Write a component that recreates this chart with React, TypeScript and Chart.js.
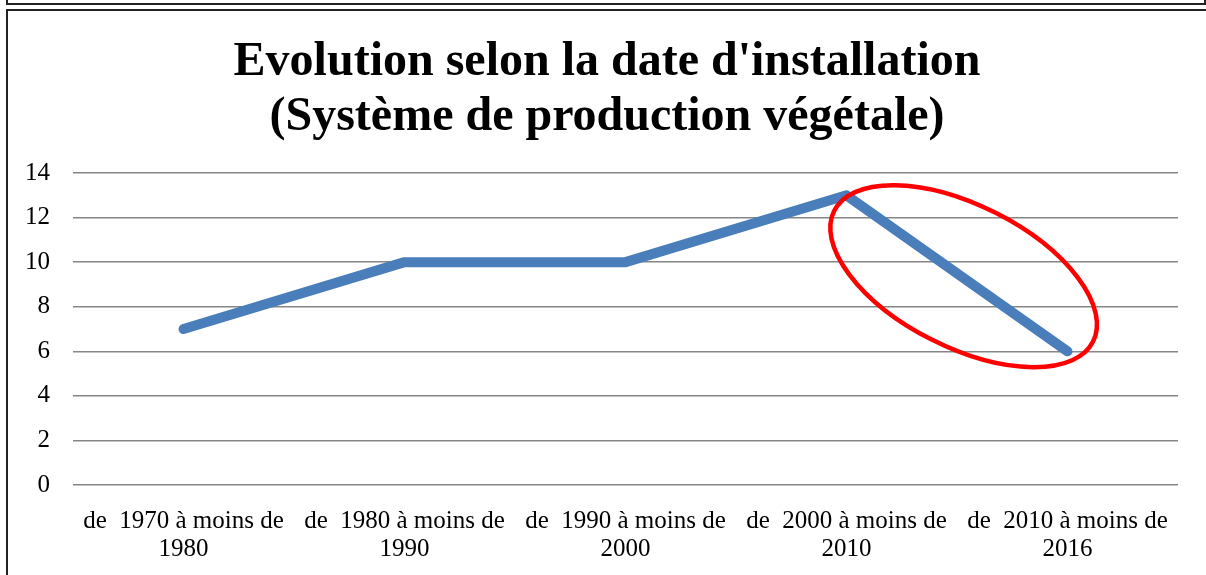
import React, { useEffect, useRef } from "react";
import { Chart, registerables } from "chart.js";

Chart.register(...registerables);

const TITLE_LINES = ["Evolution selon la date d'installation", "(Système de production végétale)"];
const CATEGORIES: string[][] = [
  ["de  1970 à moins de", "1980"],
  ["de  1980 à moins de", "1990"],
  ["de  1990 à moins de", "2000"],
  ["de  2000 à moins de", "2010"],
  ["de  2010 à moins de", "2016"],
];
const VALUES = [7, 10, 10, 13, 6];
const Y_MIN = 0;
const Y_MAX = 14;
const Y_STEP = 2;
// highlight ellipse: centre in data units (category index, value), radii in px, rotation deg
const HIGHLIGHT = { xIndex: 3.53, yValue: 9.37, rx: 145, ry: 71, rotationDeg: 26.8 };

const FONT = "'Liberation Serif', 'Times New Roman', serif";

const ellipsePlugin = {
  id: "highlightEllipse",
  afterLayout(chart: any) {
    // let the y-axis labels use the space of the left padding (avoid clipping)
    const y = chart.scales.y;
    if (y) {
      y.left = 0;
      y.width = y.right;
    }
  },
  afterDatasetsDraw(chart: any) {
    const { ctx, scales } = chart;
    const cx = scales.x.getPixelForValue(HIGHLIGHT.xIndex);
    const cy = scales.y.getPixelForValue(HIGHLIGHT.yValue);
    ctx.save();
    ctx.beginPath();
    ctx.ellipse(cx, cy, HIGHLIGHT.rx, HIGHLIGHT.ry, (HIGHLIGHT.rotationDeg * Math.PI) / 180, 0, Math.PI * 2);
    ctx.strokeStyle = "#ff0000";
    ctx.lineWidth = 4.5;
    ctx.stroke();
    ctx.restore();
  },
};

export default function App() {
  const ref = useRef<HTMLCanvasElement | null>(null);

  useEffect(() => {
    if (!ref.current) return;
    const chart = new Chart(ref.current, {
      type: "line",
      data: {
        labels: CATEGORIES,
        datasets: [
          {
            data: VALUES,
            borderColor: "#4a7ebb",
            borderWidth: 10,
            borderCapStyle: "round",
            borderJoinStyle: "round",
            pointRadius: 0,
            pointHoverRadius: 0,
            tension: 0,
            fill: false,
          },
        ],
      },
      options: {
        animation: false,
        responsive: false,
        maintainAspectRatio: false,
        layout: { padding: { left: 36, right: 28, top: 0, bottom: 0 } },
        plugins: {
          legend: { display: false },
          tooltip: { enabled: false },
          title: {
            display: true,
            text: TITLE_LINES,
            color: "#000",
            font: { family: FONT, size: 48, weight: "bold", lineHeight: 1.146 },
            padding: { top: 35, bottom: 28 },
          },
        },
        scales: {
          x: {
            offset: true,
            grid: { display: false },
            border: { display: false },
            ticks: {
              color: "#000",
              font: { family: FONT, size: 25, lineHeight: 1.12 },
              padding: 14,
              maxRotation: 0,
              autoSkip: false,
            },
            afterFit: (scale: any) => {
              scale.height = 90;
              scale.paddingLeft = 0;
              scale.paddingRight = 0;
            },
          },
          y: {
            min: Y_MIN,
            max: Y_MAX,
            grid: { color: "#868686", lineWidth: 1.5, drawTicks: false },
            border: { display: false },
            ticks: {
              stepSize: Y_STEP,
              color: "#000",
              font: { family: FONT, size: 25 },
              padding: 23,
            },
            afterFit: (scale: any) => {
              scale.width = 37;
            },
          },
        },
      },
      plugins: [ellipsePlugin],
    });
    return () => chart.destroy();
  }, []);

  return (
    <div style={{ position: "absolute", left: 0, top: 0, width: 1206, height: 575, overflow: "hidden", background: "#fff" }}>
      <div style={{ position: "absolute", left: 6, top: -20, width: 1196, height: 21, border: "2px solid #222" }} />
      <div style={{ position: "absolute", left: 6, top: 9, width: 1220, height: 620, border: "2px solid #222" }} />
      <canvas ref={ref} width={1206} height={575} style={{ position: "absolute", left: 0, top: 0 }} />
    </div>
  );
}
